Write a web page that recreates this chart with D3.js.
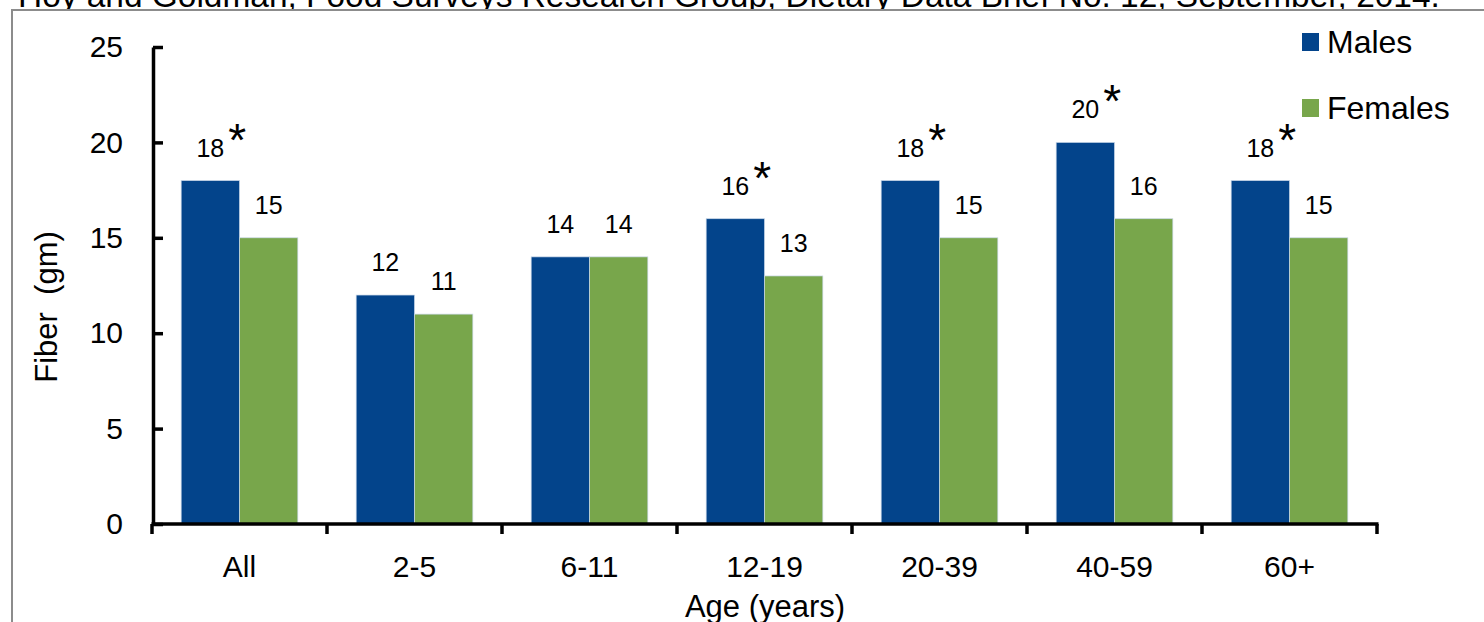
<!DOCTYPE html>
<html>
<head>
<meta charset="utf-8">
<script src="https://cdn.jsdelivr.net/npm/d3@7"></script>
<style>
  html, body { margin: 0; padding: 0; background: #fff; }
  svg { display: block; font-family: "Liberation Sans", Arial, sans-serif; }
</style>
</head>
<body>
<svg id="fiber-chart" width="1484" height="622"></svg>
<script>
(function () {
    const svg = d3.select("#fiber-chart");
    const W = 1484, H = 622;

    const sourceNote = "Hoy and Goldman, Food Surveys Research Group, Dietary Data Brief No. 12, September, 2014.";
    const categories = ["All", "2-5", "6-11", "12-19", "20-39", "40-59", "60+"];
    const seriesNames = ["Males", "Females"];
    const males   = [18, 12, 14, 16, 18, 20, 18];
    const females = [15, 11, 14, 13, 15, 16, 15];
    const maleSignificant = [true, false, false, true, true, true, true];
    const yTicks = [0, 5, 10, 15, 20, 25];

    const MALE_FILL = "#03448B";
    const FEMALE_FILL = "#78A64B";
    const colors = { Males: MALE_FILL, Females: FEMALE_FILL };
    const AXIS_W = 3.5;

    const plot = { left: 153, right: 1377, top: 47, bottom: 524 };

    // source line, cut by the top of the window
    const note = svg.append("text")
        .attr("x", 18).attr("y", 7)
        .attr("font-size", 28).attr("fill", "#000")
        .text(sourceNote);
    const nw = note.node().getComputedTextLength();
    note.attr("font-size", 28 * 1422 / nw);

    // frame
    svg.append("rect")
        .attr("x", 12).attr("y", 10)
        .attr("width", W).attr("height", H)
        .attr("fill", "#fff")
        .attr("stroke", "#8c8c8c").attr("stroke-width", 2);

    const x = d3.scaleBand().domain(categories)
        .range([plot.left - 1, plot.right]).paddingInner(0).paddingOuter(0);
    const xs = d3.scaleBand().domain(seriesNames)
        .range([0, x.bandwidth()]).paddingInner(0).paddingOuter(0.5);
    const y = d3.scaleLinear().domain([0, 25]).range([plot.bottom, plot.top]);

    const rows = categories.map((c, i) => ({
        cat: c,
        vals: [
            { s: "Males", v: males[i], star: maleSignificant[i] },
            { s: "Females", v: females[i], star: false }
        ]
    }));

    // bars
    const groups = svg.append("g").selectAll("g")
        .data(rows).join("g")
        .attr("transform", d => `translate(${x(d.cat)},0)`);

    groups.selectAll("rect")
        .data(d => d.vals).join("rect")
        .attr("x", d => xs(d.s))
        .attr("y", d => y(d.v))
        .attr("width", xs.bandwidth())
        .attr("height", d => y(0) - y(d.v))
        .attr("fill", d => colors[d.s])
        .attr("stroke", "#c9d7e8").attr("stroke-width", 0.7);

    // value labels
    groups.selectAll("text.val")
        .data(d => d.vals).join("text")
        .attr("class", "val")
        .attr("x", d => xs(d.s) + xs.bandwidth() / 2)
        .attr("y", d => y(d.v) - 24)
        .attr("text-anchor", "middle")
        .attr("font-size", 25).attr("fill", "#000")
        .text(d => d.v);

    // significance marks
    groups.selectAll("text.star")
        .data(d => d.vals.filter(v => v.star)).join("text")
        .attr("class", "star")
        .attr("x", d => xs(d.s) + xs.bandwidth() / 2 + 18)
        .attr("y", d => y(d.v) - 25)
        .attr("font-size", 46).attr("fill", "#000")
        .text("*");

    // y axis
    const yAxis = d3.axisLeft(y).tickValues(yTicks)
        .tickSize(-10).tickSizeOuter(0).tickPadding(30);
    const yg = svg.append("g")
        .attr("transform", `translate(${plot.left},0)`)
        .call(yAxis);
    yg.select(".domain").attr("stroke", "#000").attr("stroke-width", AXIS_W);
    yg.selectAll(".tick line").attr("stroke", "#000").attr("stroke-width", AXIS_W);
    yg.selectAll(".tick text")
        .attr("font-family", "Liberation Sans, Arial, sans-serif")
        .attr("font-size", 30).attr("fill", "#000");

    // x axis: baseline plus boundary ticks
    const xg = svg.append("g");
    xg.append("line")
        .attr("x1", plot.left - 1.5).attr("x2", plot.right + 1.5)
        .attr("y1", y(0)).attr("y2", y(0))
        .attr("stroke", "#000").attr("stroke-width", AXIS_W);
    const bounds = categories.map(c => x(c)).concat([x.range()[1]]);
    xg.selectAll("line.tk")
        .data(bounds).join("line")
        .attr("class", "tk")
        .attr("x1", d => d).attr("x2", d => d)
        .attr("y1", y(0)).attr("y2", y(0) + 10)
        .attr("stroke", "#000").attr("stroke-width", AXIS_W);
    xg.selectAll("text")
        .data(categories).join("text")
        .attr("x", d => x(d) + x.bandwidth() / 2)
        .attr("y", 577)
        .attr("text-anchor", "middle")
        .attr("font-size", 30).attr("fill", "#000")
        .text(d => d);

    // axis titles
    svg.append("text")
        .attr("transform", `translate(57,${307}) rotate(-90)`)
        .attr("text-anchor", "middle")
        .attr("font-size", 31).attr("fill", "#000")
        .attr("xml:space", "preserve")
        .text("Fiber  (gm)");
    svg.append("text")
        .attr("x", (plot.left + plot.right) / 2).attr("y", 617)
        .attr("text-anchor", "middle")
        .attr("font-size", 31).attr("fill", "#000")
        .text("Age (years)");

    // legend
    const lg = svg.append("g").attr("transform", "translate(1302,33)");
    const item = lg.selectAll("g").data(seriesNames).join("g")
        .attr("transform", (d, i) => `translate(0,${i * 66})`);
    item.append("rect")
        .attr("width", 17).attr("height", 18)
        .attr("fill", d => colors[d]);
    item.append("text")
        .attr("x", 25).attr("y", 20)
        .attr("font-size", 32).attr("fill", "#000")
        .text(d => d);
})();
</script>
</body>
</html>
